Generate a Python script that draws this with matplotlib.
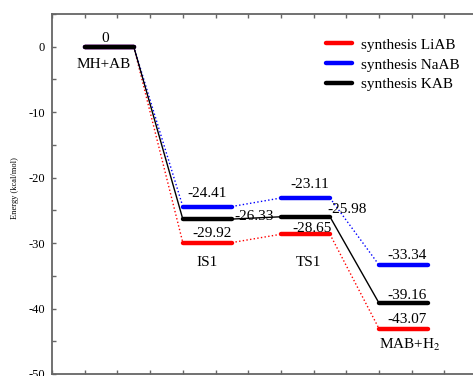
import matplotlib.pyplot as plt
from matplotlib.ticker import MultipleLocator, NullFormatter

plt.rcParams['font.family'] = ['Liberation Serif', 'DejaVu Serif']
plt.rcParams['mathtext.fontset'] = 'stix'
plt.rcParams['axes.unicode_minus'] = False

# reaction path states and relative energies (kcal/mol)
states = ['MH+AB', 'IS1', 'TS1', 'MAB+H$_2$']
series = ['synthesis LiAB', 'synthesis NaAB', 'synthesis KAB']
colors = ['red', 'blue', 'black']
e_li = [0, -29.92, -28.65, -43.07]
e_na = [0, -24.41, -23.11, -33.34]
e_k = [0, -26.33, -25.98, -39.16]
energies = [e_li, e_na, e_k]

# level segments along x (start of each level, width)
x_start = [1, 4, 7, 10]
width = 1.5

fig = plt.figure(figsize=(4.73, 3.76), dpi=100)
ax = fig.add_axes([52 / 473, 2 / 376, 13 * 32.7 / 473, 360 / 376])

for vals, c, name in zip(energies, colors, series):
    # connectors between levels
    for i in range(len(vals) - 1):
        ls = '-' if c == 'black' else ':'
        ax.plot([x_start[i] + width, x_start[i + 1]], [vals[i], vals[i + 1]],
                color=c, lw=1.0, ls=ls, zorder=2)
    for i, v in enumerate(vals):
        ax.plot([x_start[i], x_start[i] + width], [v, v], color=c, lw=3.2,
                solid_capstyle='round', zorder=3,
                label=name if i == 0 else None)

# value labels: (x, y) data point, offset in pixels, alignment
def vlabel(text, x, y, dx, dy, ha='center'):
    ax.annotate(text, (x, y), xytext=(dx, dy), textcoords='offset pixels',
                ha=ha, va='center', fontsize=11, zorder=4)

mid = [s + width / 2 for s in x_start]
vlabel('0', mid[0], 0, -4, 8)
vlabel('-24.41', mid[1], e_na[1], 0, 13)
vlabel('-29.92', mid[1], e_li[1], 5, 9)
vlabel('-26.33', x_start[1] + width, e_k[1], 3, 3, ha='left')
vlabel('-23.11', mid[2], e_na[2], 4, 13)
vlabel('-28.65', mid[2], e_li[2], 7, 6)
vlabel('-25.98', x_start[2] + width, e_k[2], -3, 7, ha='left')
vlabel('-33.34', mid[3], e_na[3], 4, 9)
vlabel('-39.16', mid[3], e_k[3], 4, 8)
vlabel('-43.07', mid[3], e_li[3], 4, 9)

# state names
state_pos = [(1.59, -2.7), (4.74, -32.9), (7.83, -32.9), (10.95, -45.6)]
for name, (sx, sy) in zip(states, state_pos):
    ax.text(sx, sy, name, ha='center', va='center', fontsize=11)

ax.set_xlim(0, 13)
ax.set_ylim(-50, 5)
ax.xaxis.set_major_locator(MultipleLocator(1))
ax.xaxis.set_major_formatter(NullFormatter())
ax.yaxis.set_major_locator(MultipleLocator(10))
ax.yaxis.set_minor_locator(MultipleLocator(5))
ax.tick_params(axis='both', which='both', direction='in', length=3,
               color='#666666', width=1, top=True, right=False,
               labelsize=9, pad=5)
for sp in ax.spines.values():
    sp.set_color('#666666')
    sp.set_linewidth(1.3)
ax.spines['right'].set_visible(False)

fig.text(15 / 473, 1 - 188 / 376, 'Energy (kcal/mol)', rotation=90,
         ha='center', va='center', fontsize=6)

ax.legend(loc='upper left', bbox_to_anchor=(326 / 473, 1 - 38 / 376),
          bbox_transform=fig.transFigure, frameon=False, fontsize=11,
          handlelength=1.7, handletextpad=0.6, labelspacing=0.4,
          borderaxespad=0, borderpad=0)

fig.savefig('out.png', dpi=100)
